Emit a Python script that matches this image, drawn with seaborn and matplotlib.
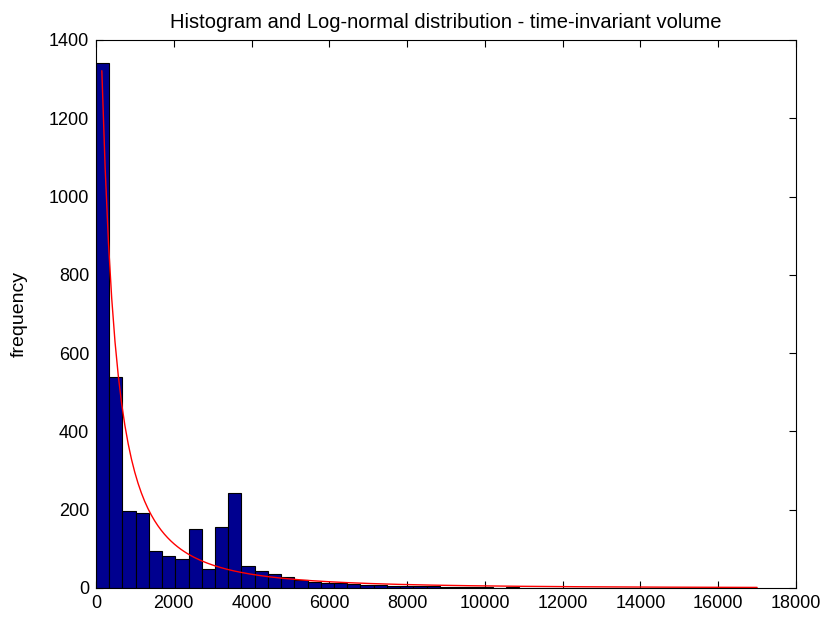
import numpy as np
import pandas as pd
import matplotlib
matplotlib.use("Agg")
import matplotlib.pyplot as plt
import seaborn as sns

# Histogram counts: 50 equal bins spanning 0 .. 17000
bin_lo = 0.0
bin_hi = 17000.0
counts = [1340, 538, 197, 191, 95, 83, 75, 152, 48, 157,
          243, 55, 43, 37, 27, 20, 15, 13, 12, 10,
          8, 7, 6, 5, 4, 4, 3, 3, 2, 2,
          1, 2, 1, 1, 1, 0, 1, 0, 1, 0,
          0, 1, 0, 0, 0, 0, 0, 0, 0, 1]

# Fitted log-normal parameters (of ln(volume))
logn_mu = 6.42
logn_sigma = 1.485
curve_start = 150.0

x_ticks = [0, 2000, 4000, 6000, 8000, 10000, 12000, 14000, 16000, 18000]
y_ticks = [0, 200, 400, 600, 800, 1000, 1200, 1400]

title = "Histogram and Log-normal distribution - time-invariant volume"
ylabel = "frequency"

sns.set_theme(style="white")
plt.rcParams["font.family"] = ["Liberation Sans", "DejaVu Sans"]
plt.rcParams["text.color"] = "black"
plt.rcParams["axes.labelcolor"] = "black"

n_bins = len(counts)
width = (bin_hi - bin_lo) / n_bins
centers = bin_lo + width * (np.arange(n_bins) + 0.5)
hist_df = pd.DataFrame({"volume": centers, "count": counts})

# Log-normal density scaled to the histogram (total count x bin width)
n_total = float(np.sum(counts))
xs = np.linspace(curve_start, bin_hi, 200)
pdf = np.exp(-(np.log(xs) - logn_mu) ** 2 / (2 * logn_sigma ** 2)) / (
    xs * logn_sigma * np.sqrt(2 * np.pi))
curve_df = pd.DataFrame({"volume": xs, "freq": pdf * n_total * width})

fig = plt.figure(figsize=(8.22, 6.19), dpi=100)
ax = fig.add_axes([96 / 822, 1 - 588 / 619, 700 / 822, 548 / 619])

sns.histplot(data=hist_df, x="volume", weights="count", bins=n_bins,
             binrange=(bin_lo, bin_hi),
             color="#00008F", edgecolor="black", linewidth=0.8,
             alpha=1.0, ax=ax)
sns.lineplot(data=curve_df, x="volume", y="freq", color="red",
             linewidth=1.0, ax=ax)

ax.set_xlim(0, 18000)
ax.set_ylim(0, 1400)
ax.set_xticks(x_ticks)
ax.set_yticks(y_ticks)
ax.set_xticklabels([str(t) for t in x_ticks])
ax.set_yticklabels([str(t) for t in y_ticks])
ax.tick_params(direction="in", length=5, width=0.8, colors="black",
               labelsize=13, top=True, right=True, bottom=True, left=True,
               pad=5)
for s in ax.spines.values():
    s.set_color("black")
    s.set_linewidth(0.8)
    s.set_visible(True)

ax.set_xlabel("")
ax.set_ylabel(ylabel, fontsize=14, color="black")
ax.yaxis.set_label_coords(-0.097, 0.5)
ax.set_title(title, fontsize=14.5, pad=9, color="black")

fig.savefig("out.png", dpi=100, facecolor="white")
